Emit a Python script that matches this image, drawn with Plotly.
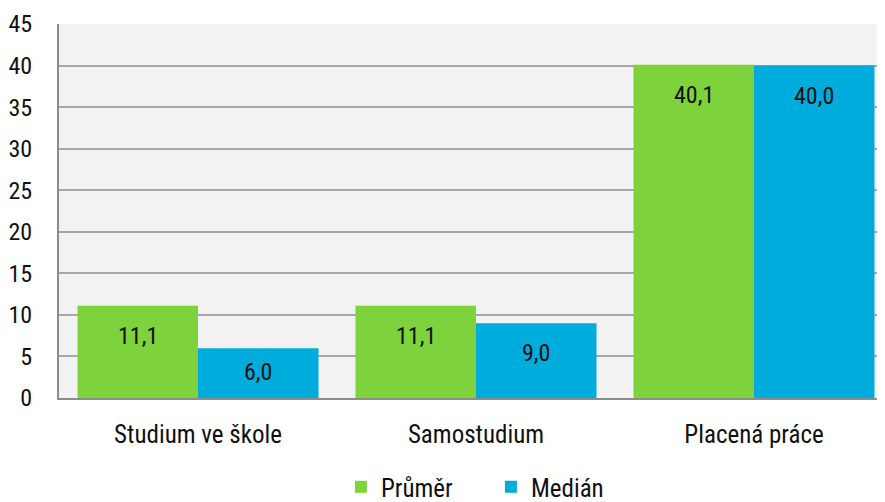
import plotly.graph_objects as go

categories = ["Studium ve škole", "Samostudium", "Placená práce"]
prumer = [11.1, 11.1, 40.1]
median = [6.0, 9.0, 40.0]
series_names = ["Průměr", "Medián"]
y_ticks = [0, 5, 10, 15, 20, 25, 30, 35, 40, 45]

GREEN = "#7ED23C"
BLUE = "#00ACDB"
FONT = "Roboto Condensed, Liberation Sans, Arial, sans-serif"
TXT = "#111111"
BARGAP = 0.133

x_idx = list(range(len(categories)))

fig = go.Figure()
fig.add_trace(go.Bar(x=x_idx, y=prumer, name=series_names[0], marker=dict(color=GREEN, line=dict(width=0))))
fig.add_trace(go.Bar(x=x_idx, y=median, name=series_names[1], marker=dict(color=BLUE, line=dict(width=0))))

half = (1 - BARGAP) / 4
def fmt(v):
    return f"{v:.1f}".replace(".", ",")

for vals, off in ((prumer, -half), (median, half)):
    for i, v in enumerate(vals):
        fig.add_annotation(x=i + off, y=v, text=fmt(v), showarrow=False,
                           yanchor="middle", yshift=-30 if v > 8 else -24,
                           font=dict(size=24, color=TXT, family=FONT))

fig.update_layout(
    width=869, height=510,
    margin=dict(l=51, r=0, t=16, b=120),
    paper_bgcolor="white",
    plot_bgcolor="#F2F2F2",
    barmode="group", bargap=BARGAP, bargroupgap=0,
    font=dict(family=FONT, size=24, color=TXT),
    showlegend=True,
    legend=dict(orientation="h", x=0.528, xanchor="center", y=-0.238, yanchor="middle",
                font=dict(size=25, family=FONT, color=TXT),
                entrywidth=105, entrywidthmode="pixels", traceorder="normal",
                bgcolor="rgba(0,0,0,0)"),
)
fig.update_xaxes(
    range=[-0.5, -0.5 + 818 / 278], tickmode="array", tickvals=x_idx, ticktext=categories,
    tickfont=dict(size=25, family=FONT, color=TXT),
    showgrid=False, showline=True, linecolor="#8C8C8C", linewidth=2,
    ticks="", ticklabelstandoff=13, fixedrange=True, zeroline=False,
)
fig.update_yaxes(
    range=[0, 45], tickmode="array", tickvals=y_ticks, ticktext=[str(t) for t in y_ticks],
    tickfont=dict(size=24, family=FONT, color=TXT),
    showgrid=True, gridcolor="#A6A6A6", gridwidth=1.5,
    showline=True, linecolor="#8C8C8C", linewidth=2, mirror=False,
    ticks="", ticklabelstandoff=20, zeroline=False, fixedrange=True,
)

fig.write_html("out.html")
